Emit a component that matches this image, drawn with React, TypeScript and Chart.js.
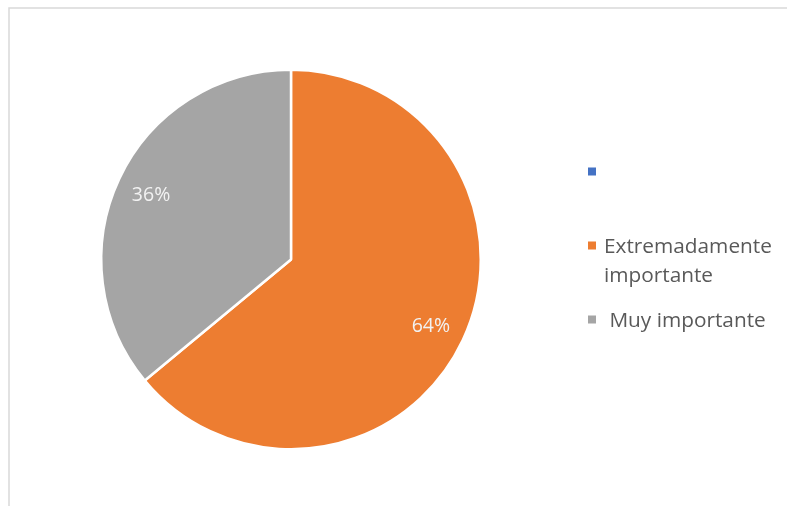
import React, { useEffect, useRef } from "react";
import { Chart, registerables } from "chart.js";

Chart.register(...registerables);

const categories: string[][] = [[""], ["Extremadamente", "importante"], [" Muy importante"]];
const values: number[] = [0, 64, 36];
const colors: string[] = ["#4472C4", "#ED7D31", "#A5A5A5"];

const FONT = '"Open Sans", "Liberation Sans", sans-serif';

const framePlugin = {
  id: "frame",
  beforeDraw(chart: any) {
    const ctx = chart.ctx;
    ctx.save();
    ctx.fillStyle = "#ffffff";
    ctx.fillRect(0, 0, chart.width, chart.height);
    ctx.strokeStyle = "#d9d9d9";
    ctx.lineWidth = 1.5;
    ctx.strokeRect(9, 8, chart.width + 20, chart.height + 20);
    ctx.restore();
  },
};

const labelsPlugin = {
  id: "pctLabels",
  afterDatasetsDraw(chart: any) {
    const ctx = chart.ctx;
    const meta = chart.getDatasetMeta(0);
    const data = chart.data.datasets[0].data as number[];
    const total = data.reduce((a, b) => a + b, 0);
    ctx.save();
    ctx.font = `19.5px ${FONT}`;
    ctx.fillStyle = "#f2f2f2";
    ctx.textAlign = "center";
    ctx.textBaseline = "middle";
    meta.data.forEach((arc: any, i: number) => {
      if (!data[i]) return;
      const p = arc.getProps(["x", "y", "startAngle", "endAngle", "outerRadius"], true);
      const mid = (p.startAngle + p.endAngle) / 2;
      const d = p.outerRadius * 0.815;
      const pct = Math.round((data[i] / total) * 100) + "%";
      ctx.fillText(pct, p.x + Math.cos(mid) * d, p.y + Math.sin(mid) * d + 1.5);
    });
    ctx.restore();
  },
};

const legendPlugin = {
  id: "sideLegend",
  afterDraw(chart: any) {
    const ctx = chart.ctx;
    const labels = chart.data.labels as string[][];
    const cols = chart.data.datasets[0].backgroundColor as string[];
    ctx.save();
    ctx.font = `20.8px ${FONT}`;
    ctx.textBaseline = "alphabetic";
    labels.forEach((lines, i) => {
      const cy = 171.5 + i * 74;
      ctx.fillStyle = cols[i];
      ctx.fillRect(588, cy - 4, 8, 8);
      ctx.fillStyle = "#595959";
      lines.forEach((line, j) => {
        ctx.fillText(line, 604, cy + 7.5 + j * 29);
      });
    });
    ctx.restore();
  },
};

export default function App() {
  const ref = useRef<HTMLCanvasElement>(null);
  useEffect(() => {
    if (!ref.current) return;
    const chart = new Chart(ref.current, {
      type: "pie",
      data: {
        labels: categories as any,
        datasets: [
          {
            data: values,
            backgroundColor: colors,
            borderColor: "#ffffff",
            borderWidth: 2.5,
          },
        ],
      },
      options: {
        animation: false,
        responsive: true,
        maintainAspectRatio: false,
        layout: { padding: { top: 68, bottom: 55, left: 100, right: 305 } },
        plugins: {
          legend: { display: false },
          tooltip: { enabled: false },
        },
      },
      plugins: [framePlugin, labelsPlugin, legendPlugin],
    });
    return () => chart.destroy();
  }, []);
  return (
    <div style={{ position: "fixed", left: 0, top: 0, width: 787, height: 506, background: "#fff" }}>
      <canvas ref={ref} />
    </div>
  );
}
